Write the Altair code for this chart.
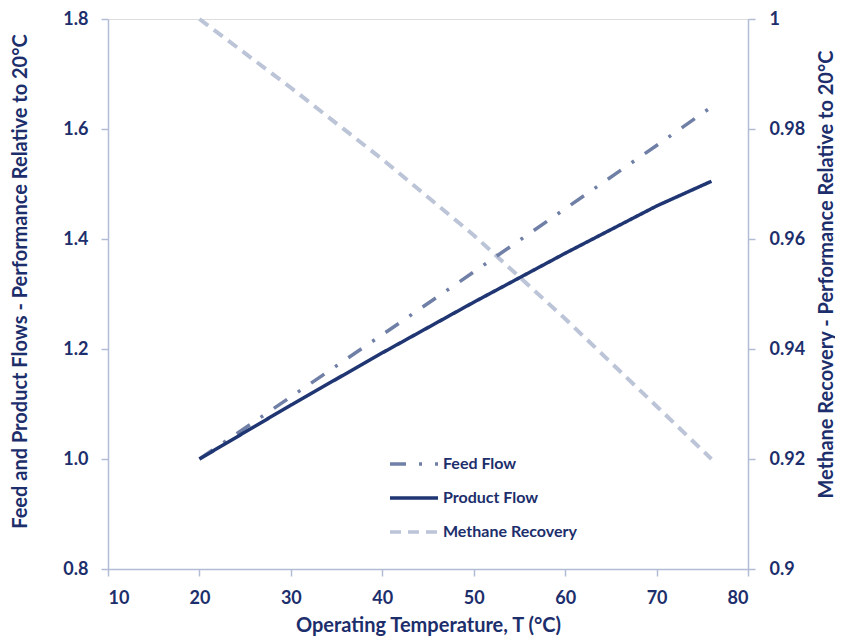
import altair as alt
import pandas as pd

# ---- data ----
temps = [20, 30, 40, 50, 60, 70, 76]
feed_flow = [1.0, 1.113, 1.226, 1.34, 1.455, 1.57, 1.64]
product_flow = [1.0, 1.098, 1.193, 1.285, 1.374, 1.46, 1.505]
methane_recovery = [1.0, 0.9875, 0.9745, 0.9607, 0.9455, 0.9296, 0.92]

series_names = ["Feed Flow", "Product Flow", "Methane Recovery"]
series_colors = ["#6f7fa6", "#1f3673", "#bcc4d8"]
series_dash = [[16, 13, 3, 13], [1, 0], [11, 7]]

left_ticks = [0.8, 1.0, 1.2, 1.4, 1.6, 1.8]
right_ticks = [0.9, 0.92, 0.94, 0.96, 0.98, 1.0]
x_ticks = [10, 20, 30, 40, 50, 60, 70, 80]

flows = pd.DataFrame(
    {"T": temps * 2,
     "value": feed_flow + product_flow,
     "series": ["Feed Flow"] * len(temps) + ["Product Flow"] * len(temps)}
)
methane = pd.DataFrame(
    {"T": temps, "value": methane_recovery, "series": ["Methane Recovery"] * len(temps)}
)

NAVY = "#1c2e6b"
AXIS_COL = "#b3bcd5"
FONT = "Lato"

x_enc = alt.X(
    "T:Q",
    scale=alt.Scale(domain=[10, 80], nice=False),
    axis=alt.Axis(
        values=x_ticks, grid=False, title="Operating Temperature, T (°C)",
        domainColor=AXIS_COL, tickColor=AXIS_COL, tickSize=7, domainWidth=1.5, tickWidth=1.5,
        labelFont=FONT, labelFontSize=18, labelFontWeight="bold", labelColor=NAVY,
        labelPadding=13,
        titleFont=FONT, titleFontSize=20, titleFontWeight="bold", titleColor=NAVY,
        titleX=320, titleY=56, titleBaseline="middle",
    ),
)

legend_def = alt.Legend(
    title=None, orient="none", legendX=280, legendY=419,
    symbolType="stroke", symbolSize=2304, symbolStrokeWidth=3.5,
    labelFont=FONT, labelFontSize=16, labelFontWeight="bold", labelColor=NAVY,
    rowPadding=-2, labelOffset=3,
)

color_enc = alt.Color(
    "series:N",
    scale=alt.Scale(domain=series_names, range=series_colors),
    legend=legend_def,
)
dash_enc = alt.StrokeDash(
    "series:N",
    scale=alt.Scale(domain=series_names, range=series_dash),
    legend=legend_def,
)

left = alt.Chart(flows).mark_line(strokeWidth=3.5).encode(
    x=x_enc,
    y=alt.Y(
        "value:Q",
        scale=alt.Scale(domain=[0.8, 1.8], nice=False, zero=False),
        axis=alt.Axis(
            values=left_ticks, format=".1f", grid=False,
            title="Feed and Product Flows - Performance Relative to 20°C",
            domainColor=AXIS_COL, tickColor=AXIS_COL, tickSize=7, domainWidth=1.5, tickWidth=1.5,
            labelFont=FONT, labelFontSize=18, labelFontWeight="bold", labelColor=NAVY,
            labelPadding=13,
            titleFont=FONT, titleFontSize=20, titleFontWeight="bold", titleColor=NAVY,
            titleX=-88, titleY=262, titleAngle=270, titleBaseline="middle",
        ),
    ),
    color=color_enc,
    strokeDash=dash_enc,
)

right = alt.Chart(methane).mark_line(strokeWidth=4).encode(
    x=x_enc,
    y=alt.Y(
        "value:Q",
        scale=alt.Scale(domain=[0.9, 1.0], nice=False, zero=False),
        axis=alt.Axis(
            orient="right", values=right_ticks, format="~g", grid=False,
            title="Methane Recovery - Performance  Relative to 20°C",
            domainColor=AXIS_COL, tickColor=AXIS_COL, tickSize=7, domainWidth=1.5, tickWidth=1.5,
            labelFont=FONT, labelFontSize=18, labelFontWeight="bold", labelColor=NAVY,
            labelPadding=14,
            titleFont=FONT, titleFontSize=20, titleFontWeight="bold", titleColor=NAVY,
            titleX=78, titleY=255, titleAngle=270, titleBaseline="middle",
        ),
    ),
    color=color_enc,
    strokeDash=dash_enc,
)

chart = (
    alt.layer(right, left)
    .resolve_scale(y="independent")
    .properties(
        width=640, height=550,
        padding={"left": 100, "top": 11, "right": 87, "bottom": 67},
        autosize=alt.AutoSizeParams(type="none"),
    )
    .configure_view(stroke=None)
    .configure(background="white")
)

chart.save("out.html", embed_options={"renderer": "svg", "actions": False})
